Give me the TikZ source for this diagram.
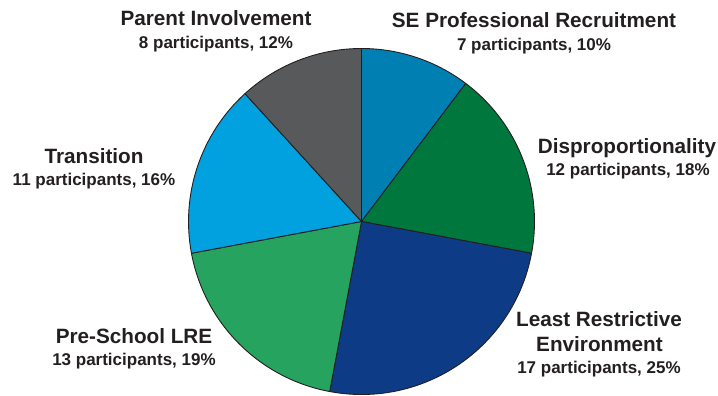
\documentclass[tikz,border=0pt]{standalone}
\usepackage{fontspec}
\setmainfont{Liberation Sans}
\definecolor{cSE}{HTML}{0080B2}
\definecolor{cDis}{HTML}{00773C}
\definecolor{cLRE}{HTML}{0D3B86}
\definecolor{cPre}{HTML}{25A35F}
\definecolor{cTra}{HTML}{00A1DE}
\definecolor{cPar}{HTML}{58595B}
\definecolor{txt}{HTML}{231F20}
\begin{document}
\begin{tikzpicture}[x=1pt,y=1pt,
  slice/.style={draw=txt,line width=0.9pt,line join=round},
  ttl/.style={anchor=base,inner sep=0pt,text=txt,font=\fontsize{20.7}{24}\selectfont\bfseries},
  det/.style={anchor=base,inner sep=0pt,text=txt,font=\fontsize{17}{20}\selectfont\bfseries}]
\useasboundingbox (0,0) rectangle (718,396);
\coordinate (c) at (361.5,174.5);
\def\R{173}
\filldraw[slice,fill=cSE]  (c) -- ++(90:\R) arc[start angle=90,end angle=52.94,radius=\R] -- cycle;
\filldraw[slice,fill=cDis] (c) -- ++(52.94:\R) arc[start angle=52.94,end angle=-10.59,radius=\R] -- cycle;
\filldraw[slice,fill=cLRE] (c) -- ++(-10.59:\R) arc[start angle=-10.59,end angle=-100.59,radius=\R] -- cycle;
\filldraw[slice,fill=cPre] (c) -- ++(-100.59:\R) arc[start angle=-100.59,end angle=-169.41,radius=\R] -- cycle;
\filldraw[slice,fill=cTra] (c) -- ++(-169.41:\R) arc[start angle=-169.41,end angle=-227.65,radius=\R] -- cycle;
\filldraw[slice,fill=cPar] (c) -- ++(-227.65:\R) arc[start angle=-227.65,end angle=-270,radius=\R] -- cycle;

\node[ttl] (parT) at (216,370) {Parent Involvement};
\node[det] (parD) at (216,347.7) {8 participants, 12\%};
\node[ttl] (seT) at (534,368.3) {SE Professional Recruitment};
\node[det] (seD) at (534,345) {7 participants, 10\%};
\node[ttl] (disT) at (627,242.7) {Disproportionality};
\node[det] (disD) at (628,220.3) {12 participants, 18\%};
\node[ttl] (traT) at (94,232) {Transition};
\node[det] (traD) at (94,210.3) {11 participants, 16\%};
\node[ttl] (lreT) at (599,69.3) {Least Restrictive};
\node[ttl] (lreE) at (599.5,44.3) {Environment};
\node[det] (lreD) at (599,22.7) {17 participants, 25\%};
\node[ttl] (preT) at (134,52.3) {Pre-School LRE};
\node[det] (preD) at (134,30.3) {13 participants, 19\%};
\end{tikzpicture}
\end{document}
